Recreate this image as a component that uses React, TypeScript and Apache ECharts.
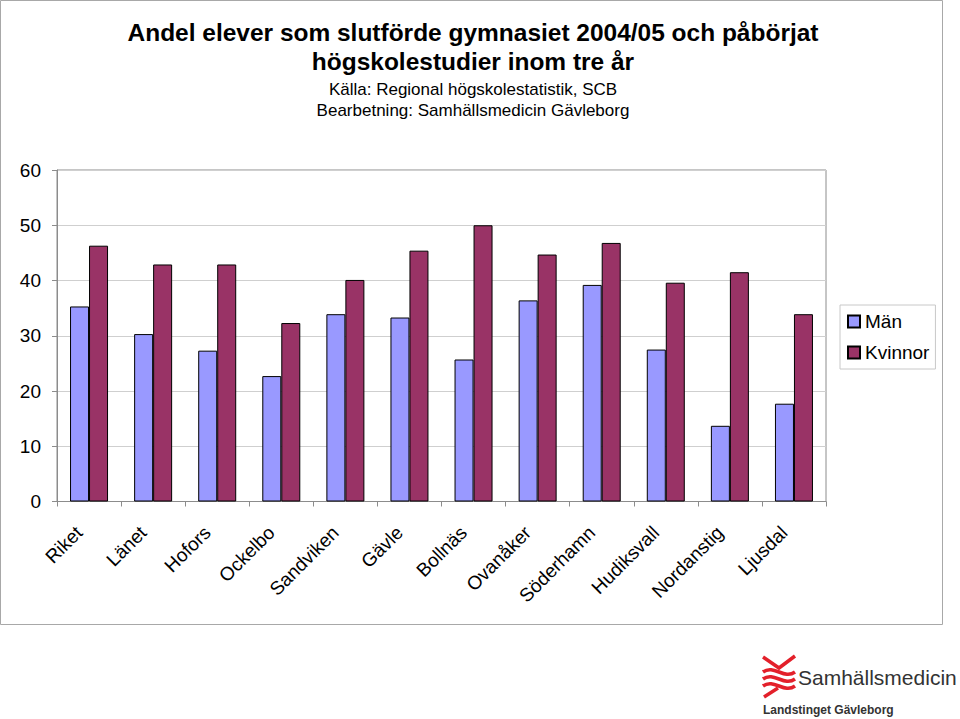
import React, { useEffect, useRef } from "react";
import * as echarts from "echarts";

const categories = ["Riket", "Länet", "Hofors", "Ockelbo", "Sandviken", "Gävle", "Bollnäs", "Ovanåker", "Söderhamn", "Hudiksvall", "Nordanstig", "Ljusdal"];
const man = [35.3, 30.3, 27.3, 22.7, 33.9, 33.3, 25.7, 36.4, 39.2, 27.5, 13.7, 17.7];
const kvinnor = [46.3, 42.9, 42.9, 32.3, 40.1, 45.4, 50.0, 44.7, 46.8, 39.6, 41.5, 33.9];
const yTicks = { min: 0, max: 60, interval: 10 };
const titleLines = ["Andel elever som slutförde gymnasiet 2004/05 och påbörjat", "högskolestudier inom tre år"];
const subLines = ["Källa: Regional högskolestatistik, SCB", "Bearbetning: Samhällsmedicin Gävleborg"];

const FONT = "'Liberation Sans', Arial, sans-serif";
const RED = "#e3202a";

export default function App() {
  const ref = useRef<HTMLDivElement>(null);
  useEffect(() => {
    if (!ref.current) return;
    const chart = echarts.init(ref.current, undefined, { renderer: "svg" });
    const logoStroke = { stroke: RED, lineWidth: 3.5, fill: null as any };
    chart.setOption({
      animation: false,
      textStyle: { fontFamily: FONT },
      grid: { left: 57, top: 170, width: 769, height: 331.5, show: true, borderColor: "#8c8c8c", borderWidth: 1 },
      legend: {
        orient: "vertical",
        left: 840,
        top: 305,
        itemWidth: 12,
        itemHeight: 12,
        itemGap: 12,
        padding: [7, 6, 7, 7],
        borderColor: "#c8c8c8",
        borderWidth: 1,
        icon: "rect",
        textStyle: { fontSize: 19, color: "#000", fontFamily: FONT, padding: [0, 0, 0, 0] },
        data: ["Män", "Kvinnor"],
      },
      xAxis: {
        type: "category",
        data: categories,
        axisLine: { lineStyle: { color: "#8c8c8c" } },
        axisTick: { show: true, length: 5, lineStyle: { color: "#8c8c8c" } },
        axisLabel: { rotate: 45, fontSize: 19, color: "#000", margin: 18, padding: [0, 14, 0, 0], interval: 0, fontFamily: FONT },
      },
      yAxis: {
        type: "value",
        min: yTicks.min,
        max: yTicks.max,
        interval: yTicks.interval,
        axisLine: { show: true, lineStyle: { color: "#8c8c8c" } },
        axisTick: { show: true, length: 5, lineStyle: { color: "#8c8c8c" } },
        axisLabel: { fontSize: 19, color: "#000", margin: 16, fontFamily: FONT },
        splitLine: { lineStyle: { color: "#cfcfcf" } },
      },
      series: [
        { name: "Män", type: "bar", data: man, barWidth: 19, barGap: "0%", itemStyle: { color: "#9999ff", borderColor: "#000", borderWidth: 1 } },
        { name: "Kvinnor", type: "bar", data: kvinnor, barWidth: 19, barGap: "0%", itemStyle: { color: "#993366", borderColor: "#000", borderWidth: 1 } },
      ],
      graphic: [
        { type: "rect", shape: { x: 0.5, y: 0.5, width: 942, height: 624 }, style: { fill: null, stroke: "#a8a8a8", lineWidth: 1 }, silent: true },
        { type: "text", x: 473, y: 33, scaleX: 1.02, style: { text: titleLines[0], font: `bold 24px ${FONT}`, fill: "#000", align: "center", verticalAlign: "middle" } },
        { type: "text", x: 473, y: 62, scaleX: 1.02, style: { text: titleLines[1], font: `bold 24px ${FONT}`, fill: "#000", align: "center", verticalAlign: "middle" } },
        { type: "text", x: 473, y: 89, style: { text: subLines[0], font: `17px ${FONT}`, fill: "#000", align: "center", verticalAlign: "middle" } },
        { type: "text", x: 473, y: 110, style: { text: subLines[1], font: `17px ${FONT}`, fill: "#000", align: "center", verticalAlign: "middle" } },
        // logo mark
        { type: "polyline", shape: { points: [[763, 657], [779, 668], [795, 656]] }, style: logoStroke },
        { type: "bezierCurve", shape: { x1: 763, y1: 672, x2: 795, y2: 672, cpx1: 774, cpy1: 664, cpx2: 784, cpy2: 680 }, style: logoStroke },
        { type: "bezierCurve", shape: { x1: 763, y1: 679, x2: 795, y2: 679, cpx1: 774, cpy1: 671, cpx2: 784, cpy2: 687 }, style: logoStroke },
        { type: "bezierCurve", shape: { x1: 763, y1: 686, x2: 795, y2: 686, cpx1: 774, cpy1: 678, cpx2: 784, cpy2: 694 }, style: logoStroke },
        { type: "line", shape: { x1: 778, y1: 688, x2: 764, y2: 697 }, style: { stroke: RED, lineWidth: 3.5 } },
        { type: "text", x: 798, y: 688, style: { text: "Samhällsmedicin", font: `21px ${FONT}`, fill: "#333", align: "left", verticalAlign: "bottom" } },
        { type: "text", x: 763, y: 710, style: { text: "Landstinget Gävleborg", font: `bold 12px ${FONT}`, fill: "#333", align: "left", verticalAlign: "middle" } },
      ],
    });
    return () => chart.dispose();
  }, []);
  return <div ref={ref} style={{ position: "fixed", left: 0, top: 0, width: 960, height: 719, background: "#fff" }} />;
}
